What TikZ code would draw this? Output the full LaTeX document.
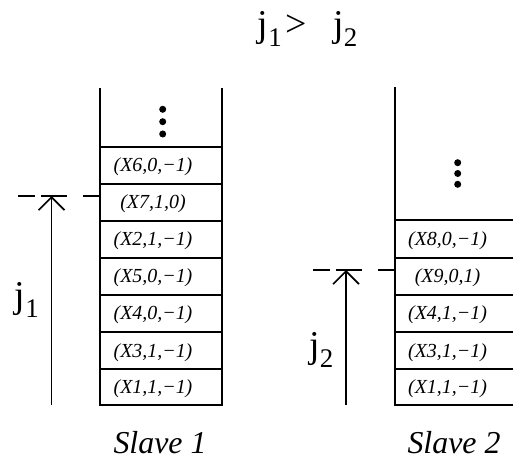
\documentclass[tikz,border=0pt]{standalone}
\usepackage{fontspec}
\setmainfont{Liberation Serif}
\usetikzlibrary{arrows.meta}
\newcommand{\jsub}[1]{{\fontsize{38}{40}\selectfont j\raisebox{-10bp}{\fontsize{27}{28}\selectfont #1}}}
\begin{document}
\begin{tikzpicture}[x=1bp,y=-1bp,line width=1.7bp,
  cell/.style={font=\fontsize{20}{22}\selectfont\itshape,inner sep=0pt},
  lab/.style={font=\fontsize{32}{36}\selectfont\itshape,inner sep=0pt,anchor=base},
  jl/.style={inner sep=0pt,anchor=base west},
  arr/.style={-{Straight Barb[length=13bp,width=26bp,line width=1.6bp]},line width=1.6bp},
  dashline/.style={dash pattern=on 17bp off 6bp on 26bp off 16bp on 17bp,line width=1.6bp},
  dotc/.style={fill,circle,minimum size=7bp,inner sep=0pt}]
\useasboundingbox (0,0) rectangle (513,458);
% title
\node[jl] (t1) at (257,37) {\jsub{1}};
\node[inner sep=0pt,anchor=base,font=\fontsize{38}{40}\selectfont] (gt) at (296.5,37) {>};
\node[jl] (t2) at (332.5,37) {\jsub{2}};
% Slave 1 stack
\draw (100,88) -- (100,405) -- (222,405) -- (222,88);
\foreach \yy in {146.7,184.3,221,258.3,295,332.3,369.3}
  \draw (100,\yy) -- (222,\yy);
\node[dotc] (d1a) at (162.7,109.3) {};
\node[dotc] (d1b) at (162.7,121.7) {};
\node[dotc] (d1c) at (162.7,134) {};
\node[cell] (c16) at (153,167) {(X6,0,−1)};
\node[cell] (c17) at (153,204.2) {(X7,1,0)};
\node[cell] (c12) at (153,241.2) {(X2,1,−1)};
\node[cell] (c15) at (153,278.2) {(X5,0,−1)};
\node[cell] (c14) at (153,315.2) {(X4,0,−1)};
\node[cell] (c13) at (153,352.3) {(X3,1,−1)};
\node[cell] (c11) at (153,388.7) {(X1,1,−1)};
% Slave 1 pointer
\coordinate (d1s) at (18,196);
\coordinate (d1e) at (100,196);
\draw[dashline] (d1s) -- (d1e);
\coordinate (a1b) at (51.5,405);
\coordinate (a1t) at (51.5,196);
\draw[arr] (a1b) -- (a1t);
\node[jl] (j1) at (14,307) {\jsub{1}};
\node[lab] (s1) at (160,453) {Slave 1};
% Slave 2 stack
\draw (395,87) -- (395,405) -- (513,405);
\foreach \yy in {220,257.7,295,332.3,369.3}
  \draw (395,\yy) -- (513,\yy);
\node[dotc] (d2a) at (457.7,162.7) {};
\node[dotc] (d2b) at (457.7,173.5) {};
\node[dotc] (d2c) at (457.7,184.3) {};
\node[cell] (c28) at (447.5,240.3) {(X8,0,−1)};
\node[cell] (c29) at (447.5,277.8) {(X9,0,1)};
\node[cell] (c24) at (447.5,315.2) {(X4,1,−1)};
\node[cell] (c23) at (447.5,352.3) {(X3,1,−1)};
\node[cell] (c21) at (447.5,388.7) {(X1,1,−1)};
% Slave 2 pointer
\coordinate (d2s) at (313,270);
\coordinate (d2e) at (395,270);
\draw[dashline] (d2s) -- (d2e);
\coordinate (a2b) at (346,405);
\coordinate (a2t) at (346,270);
\draw[arr] (a2b) -- (a2t);
\node[jl] (j2) at (308.5,357) {\jsub{2}};
\node[lab] (s2) at (454,453) {Slave 2};
\end{tikzpicture}
\end{document}
